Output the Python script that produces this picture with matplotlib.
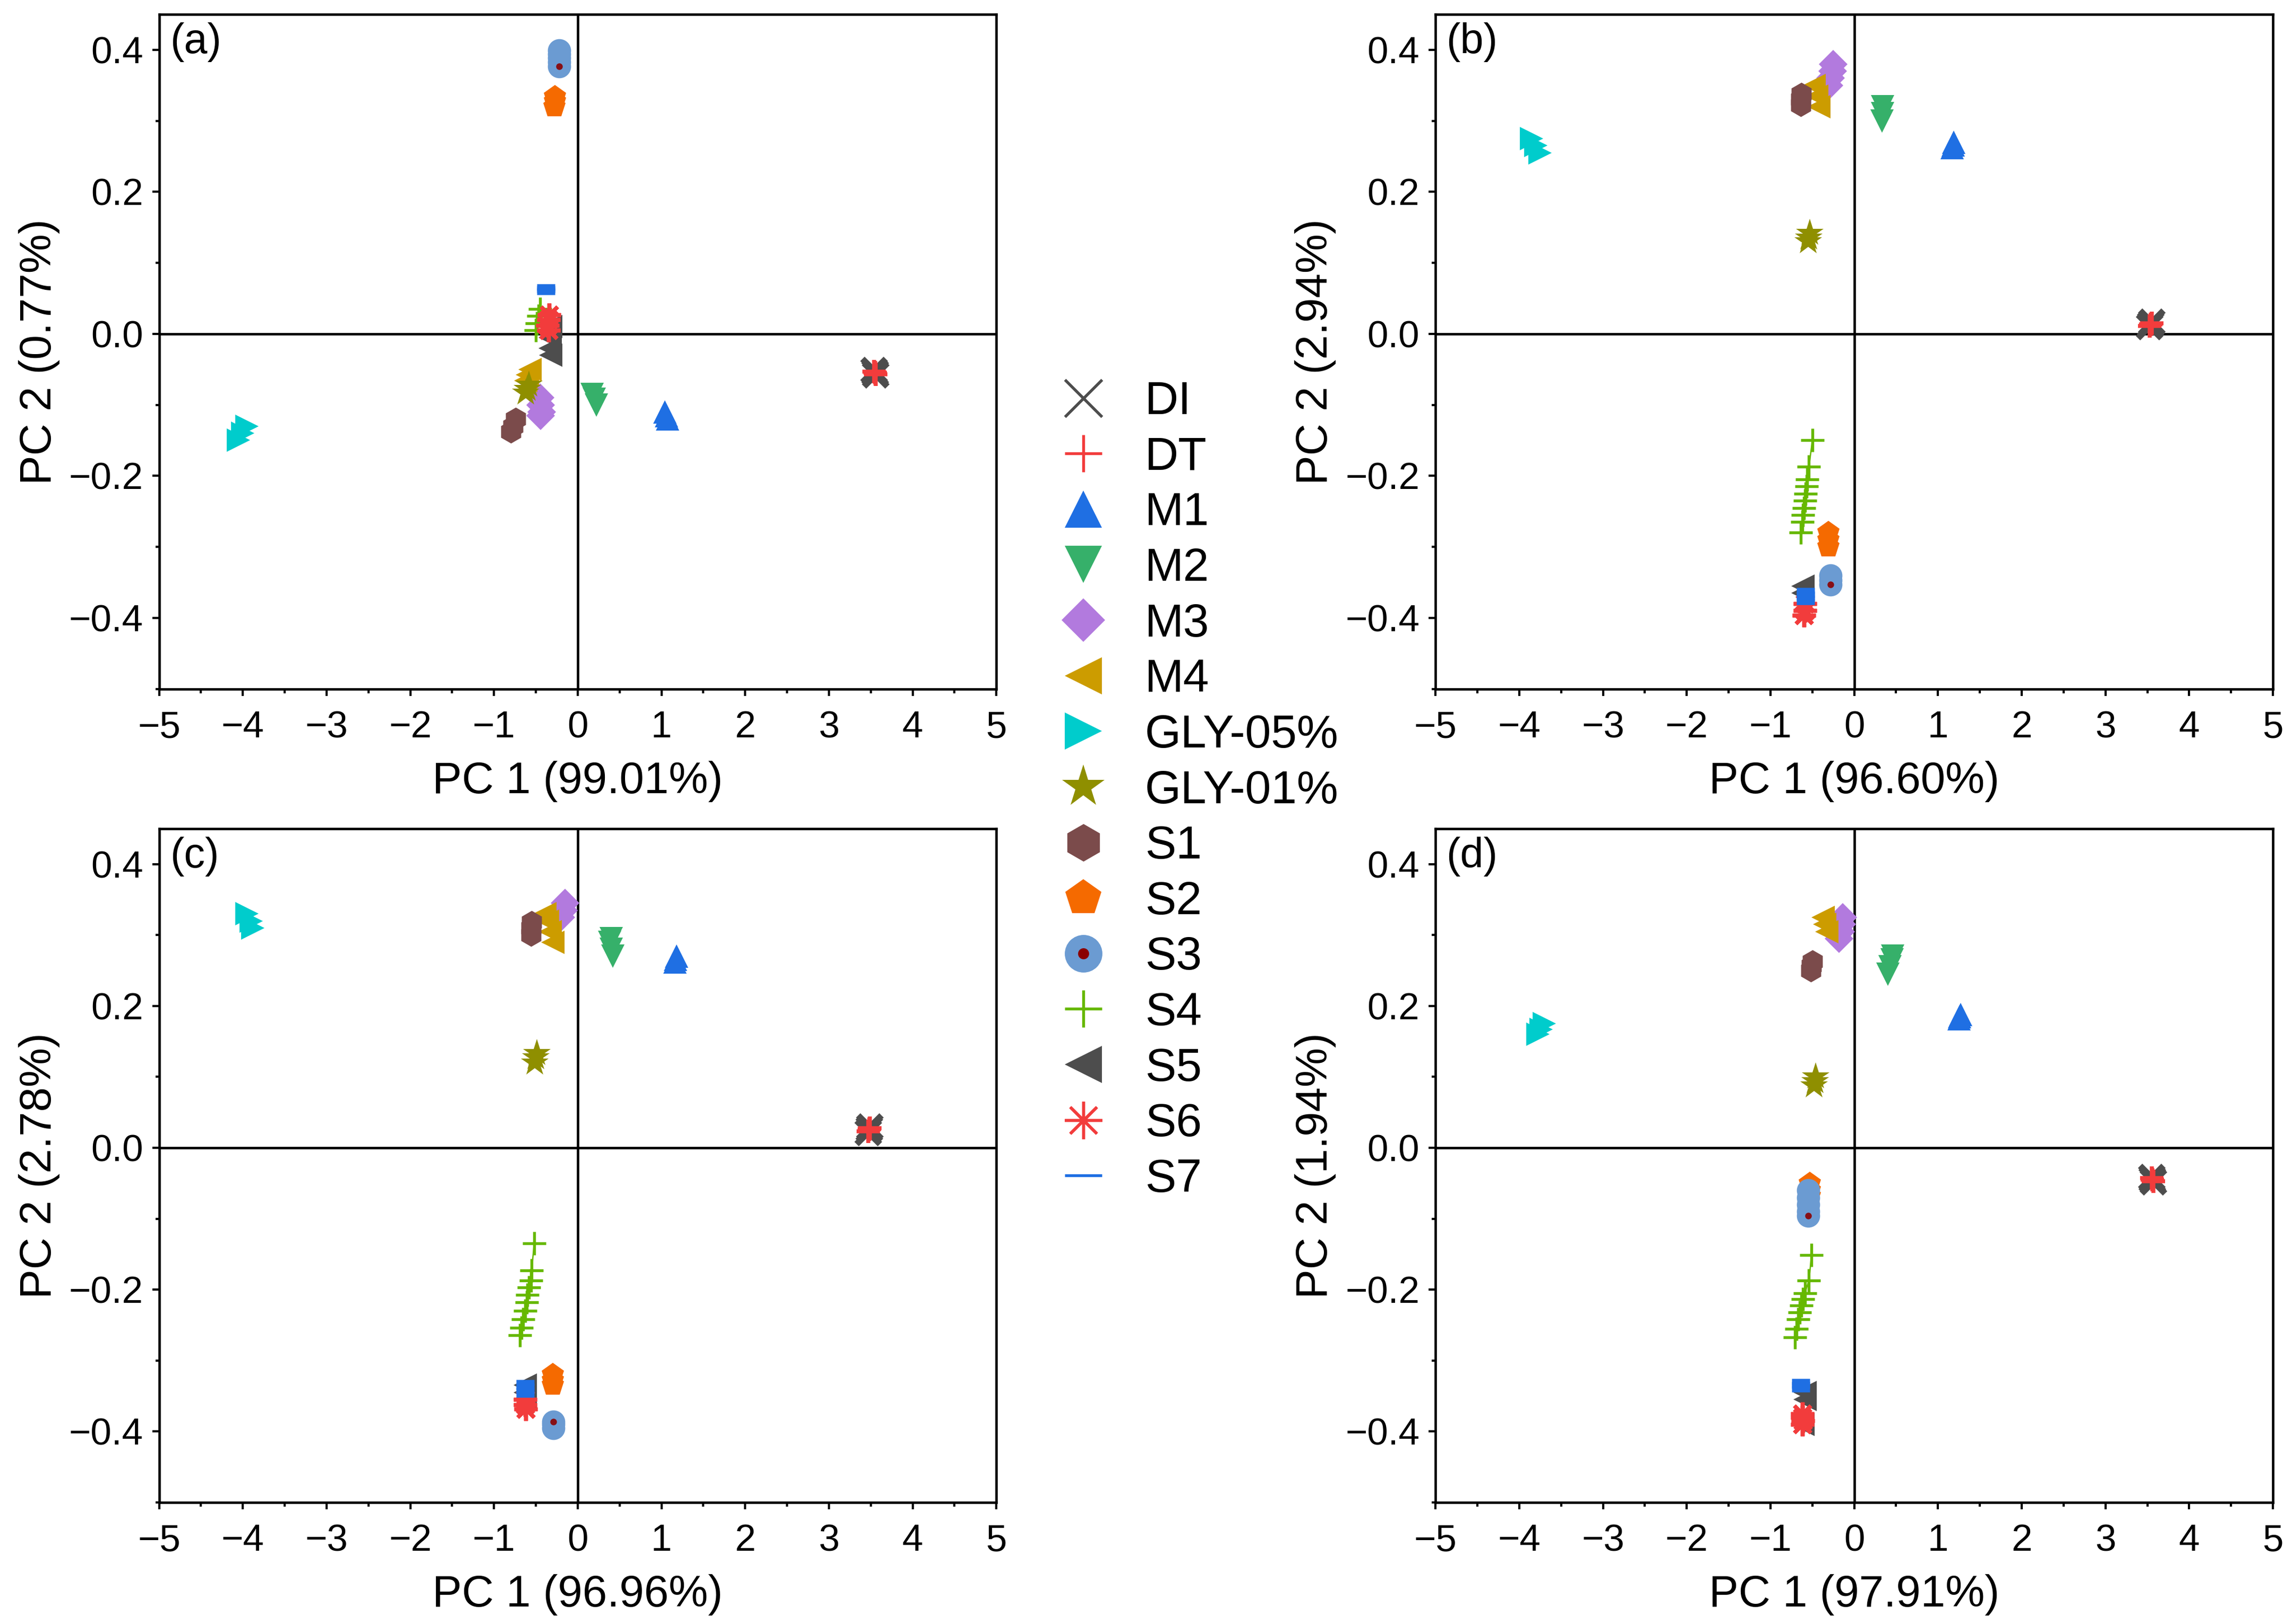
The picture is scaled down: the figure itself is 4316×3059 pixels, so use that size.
import numpy as np
import matplotlib
matplotlib.use("Agg")
import matplotlib.pyplot as plt
from matplotlib.lines import Line2D
from matplotlib.legend_handler import HandlerTuple
from matplotlib.ticker import MultipleLocator

plt.rcParams['font.family'] = ['Liberation Sans', 'DejaVu Sans']

groups = ["DI", "DT", "M1", "M2", "M3", "M4", "GLY-05%", "GLY-01%",
          "S1", "S2", "S3", "S4", "S5", "S6", "S7"]

pc1_var = ["99.01", "96.60", "96.96", "97.91"]
pc2_var = ["0.77", "2.94", "2.78", "1.94"]
panel_tags = ["(a)", "(b)", "(c)", "(d)"]

# replicate scores: group -> (PC1 values, PC2 values)
scores_a = {
    "DI": ([3.54, 3.56, 3.55], [-0.052, -0.058, -0.055]),
    "DT": ([3.54, 3.56, 3.55], [-0.053, -0.057, -0.055]),
    "M1": ([1.04, 1.06, 1.07], [-0.110, -0.115, -0.120]),
    "M2": ([0.17, 0.20, 0.22], [-0.085, -0.092, -0.100]),
    "M3": ([-0.45, -0.44, -0.43, -0.44], [-0.090, -0.100, -0.110, -0.115]),
    "M4": ([-0.57, -0.60, -0.62], [-0.050, -0.058, -0.066]),
    "GLY-05%": ([-3.95, -4.00, -4.05], [-0.130, -0.140, -0.150]),
    "GLY-01%": ([-0.58, -0.60, -0.62], [-0.072, -0.078, -0.083]),
    "S1": ([-0.74, -0.77, -0.80], [-0.120, -0.130, -0.138]),
    "S2": ([-0.27, -0.27, -0.28], [0.334, 0.327, 0.320]),
    "S3": ([-0.22, -0.22, -0.22, -0.22, -0.22], [0.399, 0.394, 0.389, 0.383, 0.377]),
    "S4": ([-0.45, -0.47, -0.49, -0.50], [0.035, 0.025, 0.015, 0.005]),
    "S5": ([-0.32, -0.33, -0.33, -0.32], [0.010, -0.005, -0.020, -0.030]),
    "S6": ([-0.34, -0.35, -0.36, -0.35], [0.027, 0.020, 0.012, 0.005]),
    "S7": ([-0.38, -0.38, -0.38], [0.060, 0.063, 0.066]),
}

scores_b = {
    "DI": ([3.53, 3.55, 3.54], [0.010, 0.016, 0.013]),
    "DT": ([3.53, 3.55, 3.54], [0.011, 0.015, 0.013]),
    "M1": ([1.17, 1.18, 1.19], [0.262, 0.266, 0.270]),
    "M2": ([0.33, 0.34, 0.34], [0.300, 0.310, 0.320]),
    "M3": ([-0.30, -0.28, -0.26, -0.25], [0.350, 0.360, 0.370, 0.380]),
    "M4": ([-0.42, -0.45, -0.48], [0.320, 0.335, 0.350]),
    "GLY-05%": ([-3.85, -3.80, -3.75], [0.275, 0.265, 0.255]),
    "GLY-01%": ([-0.55, -0.54, -0.53], [0.130, 0.135, 0.142]),
    "S1": ([-0.64, -0.64, -0.63], [0.322, 0.330, 0.338]),
    "S2": ([-0.31, -0.31, -0.31], [-0.280, -0.290, -0.300]),
    "S3": ([-0.28, -0.28, -0.28], [-0.340, -0.347, -0.353]),
    "S4": ([-0.50, -0.54, -0.56, -0.57, -0.58, -0.59, -0.60, -0.61, -0.62, -0.64],
           [-0.150, -0.187, -0.205, -0.215, -0.225, -0.235, -0.245, -0.255, -0.265, -0.280]),
    "S5": ([-0.61, -0.61], [-0.355, -0.365]),
    "S6": ([-0.59, -0.59, -0.60], [-0.380, -0.390, -0.396]),
    "S7": ([-0.58, -0.58, -0.58, -0.58], [-0.362, -0.367, -0.372, -0.377]),
}

scores_c = {
    "DI": ([3.47, 3.49, 3.48], [0.022, 0.029, 0.026]),
    "DT": ([3.47, 3.49, 3.48], [0.023, 0.028, 0.026]),
    "M1": ([1.16, 1.17, 1.18], [0.262, 0.266, 0.270]),
    "M2": ([0.42, 0.40, 0.38, 0.40], [0.270, 0.280, 0.290, 0.295]),
    "M3": ([-0.20, -0.17, -0.15], [0.325, 0.335, 0.345]),
    "M4": ([-0.30, -0.33, -0.36, -0.39], [0.290, 0.305, 0.320, 0.330]),
    "GLY-05%": ([-3.95, -3.90, -3.88], [0.330, 0.320, 0.310]),
    "GLY-01%": ([-0.51, -0.50, -0.49], [0.120, 0.127, 0.133]),
    "S1": ([-0.56, -0.56, -0.55], [0.300, 0.310, 0.318]),
    "S2": ([-0.30, -0.30, -0.30], [-0.320, -0.328, -0.335]),
    "S3": ([-0.29, -0.29, -0.29], [-0.395, -0.390, -0.386]),
    "S4": ([-0.52, -0.55, -0.56, -0.58, -0.60, -0.61, -0.63, -0.65, -0.67, -0.69],
           [-0.135, -0.173, -0.187, -0.197, -0.207, -0.218, -0.230, -0.242, -0.254, -0.264]),
    "S5": ([-0.63, -0.63, -0.63], [-0.335, -0.345, -0.355]),
    "S6": ([-0.63, -0.63, -0.62], [-0.355, -0.362, -0.368]),
    "S7": ([-0.63, -0.63, -0.63, -0.63], [-0.332, -0.337, -0.342, -0.347]),
}

scores_d = {
    "DI": ([3.55, 3.57, 3.56], [-0.042, -0.048, -0.045]),
    "DT": ([3.55, 3.57, 3.56], [-0.043, -0.047, -0.045]),
    "M1": ([1.25, 1.26, 1.27], [0.182, 0.185, 0.188]),
    "M2": ([0.40, 0.43, 0.45, 0.46], [0.245, 0.255, 0.265, 0.270]),
    "M3": ([-0.18, -0.16, -0.15, -0.14], [0.295, 0.305, 0.315, 0.325]),
    "M4": ([-0.33, -0.35, -0.37], [0.305, 0.315, 0.325]),
    "GLY-05%": ([-3.78, -3.74, -3.70], [0.160, 0.167, 0.175]),
    "GLY-01%": ([-0.48, -0.47, -0.46], [0.088, 0.094, 0.100]),
    "S1": ([-0.52, -0.51, -0.50], [0.250, 0.257, 0.263]),
    "S2": ([-0.53, -0.53, -0.53], [-0.050, -0.060, -0.068]),
    "S3": ([-0.55, -0.55, -0.55, -0.55, -0.55], [-0.060, -0.070, -0.080, -0.090, -0.096]),
    "S4": ([-0.51, -0.54, -0.59, -0.61, -0.63, -0.65, -0.67, -0.69, -0.71],
           [-0.151, -0.187, -0.205, -0.213, -0.222, -0.232, -0.242, -0.255, -0.267]),
    "S5": ([-0.59, -0.59, -0.61], [-0.345, -0.355, -0.390]),
    "S6": ([-0.62, -0.62, -0.61, -0.62], [-0.375, -0.380, -0.385, -0.390]),
    "S7": ([-0.64, -0.64, -0.64], [-0.330, -0.335, -0.340]),
}

panels = [scores_a, scores_b, scores_c, scores_d]

# marker style per group
style = {
    "DI": dict(marker="x", color="#4d4d4d", mew=2.8, lmew=1.3),
    "DT": dict(marker="+", color="#f23c3c", mew=1.8, lmew=1.3),
    "M1": dict(marker="^", color="#1f6fe3", mew=0, lmew=0),
    "M2": dict(marker="v", color="#36b06a", mew=0, lmew=0),
    "M3": dict(marker="D", color="#b27ade", mew=0, lmew=0, ms=9, lms=14),
    "M4": dict(marker="<", color="#cc9c00", mew=0, lmew=0),
    "GLY-05%": dict(marker=">", color="#00cccc", mew=0, lmew=0),
    "GLY-01%": dict(marker="*", color="#8f8f00", mew=0, lmew=0, ms=13, lms=20),
    "S1": dict(marker="h", color="#7b4b4b", mew=0, lmew=0),
    "S2": dict(marker="p", color="#f56a00", mew=0, lmew=0),
    "S3": dict(marker="o", color="#6b9bd2", mew=0, lmew=0),
    "S4": dict(marker="+", color="#66b800", mew=1.3, lmew=1.3),
    "S5": dict(marker="<", color="#4d4d4d", mew=0, lmew=0),
    "S6": dict(marker=(8, 2, 0), color="#f23c3c", mew=1.8, lmew=1.3),
    "S7": dict(marker="_", color="#1f6fe3", mew=3.0, lmew=1.3),
}

fig = plt.figure(figsize=(4316 / 300, 3059 / 300), dpi=300)
boxes = [
    [0.0694, 0.5758, 0.3653, 0.4154],
    [0.6263, 0.5758, 0.3654, 0.4154],
    [0.0694, 0.0749, 0.3653, 0.4148],
    [0.6263, 0.0749, 0.3654, 0.4148],
]

for i, box in enumerate(boxes):
    ax = fig.add_axes(box)
    ax.axhline(0, color="black", lw=1.1, zorder=1)
    ax.axvline(0, color="black", lw=1.1, zorder=1)
    scores = panels[i]
    z = 3
    for g in groups:
        xs, ys = scores[g]
        st = style[g]
        ms = st.get("ms", 10.5)
        if g == "S3":
            for x, y in zip(xs, ys):
                ax.plot(x, y, "o", color=st["color"], ms=ms, mew=0, zorder=z)
                ax.plot(x, y, "o", color="#8b0000", ms=3, mew=0, alpha=0.9, zorder=z + 0.5)
                z += 1
            continue
        if g == "S4":
            ax.plot(xs, ys, "-", color=st["color"], lw=0.6, zorder=z)
        ax.plot(xs, ys, ls="none", marker=st["marker"], color=st["color"],
                ms=ms if g != "S7" else 8, mew=st["mew"], zorder=z)
        z += 1

    ax.set_xlim(-5, 5)
    ax.set_ylim(-0.5, 0.45)
    ax.xaxis.set_minor_locator(MultipleLocator(0.5))
    ax.yaxis.set_minor_locator(MultipleLocator(0.1))
    ax.set_yticks([-0.4, -0.2, 0.0, 0.2, 0.4])
    ax.set_yticklabels(["\u22120.4", "\u22120.2", "0.0", "0.2", "0.4"])
    ax.set_xticks(range(-5, 6))
    ax.set_xticklabels([("\u2212" + str(-v)) if v < 0 else str(v) for v in range(-5, 6)])
    ax.tick_params(which="major", direction="out", length=3.2, width=1.0,
                   labelsize=17, pad=4)
    ax.tick_params(axis="x", which="major", pad=6.5)
    ax.tick_params(which="minor", direction="out", length=1.8, width=1.0)
    for sp in ax.spines.values():
        sp.set_linewidth(1.1)
    ax.set_xlabel("PC 1 (" + pc1_var[i] + "%)", fontsize=20, labelpad=7)
    ax.set_ylabel("PC 2 (" + pc2_var[i] + "%)", fontsize=20, labelpad=4)
    ax.text(0.013, 0.988, panel_tags[i], transform=ax.transAxes, fontsize=19,
            ha="left", va="top")

# legend handles
handles = []
for g in groups:
    st = style[g]
    lms = st.get("lms", 17)
    if g == "S3":
        outer = Line2D([], [], ls="none", marker="o", color=st["color"], ms=lms, mew=0)
        inner = Line2D([], [], ls="none", marker="o", color="#8b0000", ms=5, mew=0)
        handles.append((outer, inner))
    else:
        handles.append(Line2D([], [], ls="none", marker=st["marker"], color=st["color"],
                              ms=lms, mew=st["lmew"]))

fig.legend(handles, groups, loc="center left", bbox_to_anchor=(0.4585, 0.5129),
           frameon=False, fontsize=21, handlelength=1.4, handletextpad=0.62,
           labelspacing=0.27, borderpad=0, borderaxespad=0,
           handler_map={tuple: HandlerTuple(ndivide=1)})

fig.savefig("out.png", dpi=300)
